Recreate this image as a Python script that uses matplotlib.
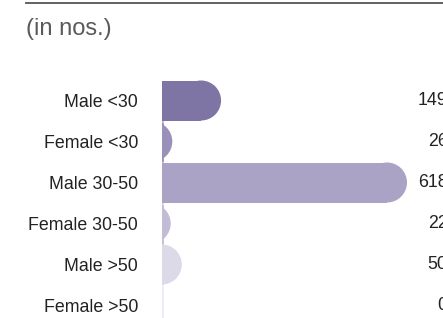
import matplotlib
matplotlib.use("Agg")
import matplotlib.pyplot as plt
from matplotlib.patches import Rectangle, Ellipse
from matplotlib.transforms import blended_transform_factory

plt.rcParams['font.family'] = ['Liberation Sans', 'DejaVu Sans']

categories = ["Male <30", "Female <30", "Male 30-50", "Female 30-50", "Male >50", "Female >50"]
values = [149, 26, 618, 22, 50, 0]
colors = ["#7f75a4", "#9a90ba", "#aaa3c5", "#c2bcd7", "#dcd9e8", "#eeecf3"]

W, H = 443, 318
fig = plt.figure(figsize=(W / 100, H / 100), dpi=100)

# heading rule and unit note
fig.add_artist(plt.Line2D([26 / W, 1], [1 - 2.5 / H, 1 - 2.5 / H], color="#555555", lw=1.3))
fig.text(26 / W, 1 - 35 / H, "(in nos.)", fontsize=17, color="#5a5a5a", ha="left", va="baseline")

ax = fig.add_axes([162 / W, 0, (W - 162) / W, (H - 80) / H])
row_px = 41
xmax = (W - 162) / 245 * max(values)
ax.set_xlim(0, xmax)
ax.set_ylim(-0.5 + (H - 80) / row_px, -0.5)

bar_h = 40 / row_px
r_x = 20 * xmax / (W - 162)

# rounded bars: flat body plus a round cap, clipped at the axis start
for i, (v, c) in enumerate(zip(values, colors)):
    cx = v - r_x
    if cx > 0:
        ax.add_patch(Rectangle((-10, i - bar_h / 2), cx + 10, bar_h, color=c, lw=0))
    ax.add_patch(Ellipse((cx, i), 2 * r_x, bar_h, color=c, lw=0))
    ax.vlines(0, i - bar_h / 2, i + bar_h / 2, color=c, lw=2)

trans = blended_transform_factory(ax.transAxes, ax.transData)
for i, v in enumerate(values):
    ax.text((447.5 - 162) / (W - 162), i, str(v), transform=trans, ha="right", va="center",
            fontsize=12.8, color="#222222", clip_on=False)

ax.set_yticks(range(len(categories)))
ax.set_yticklabels(categories, fontsize=12.8, color="#222222")
ax.tick_params(axis="y", length=0, pad=17.3)
ax.set_xticks([])
for s in ax.spines.values():
    s.set_visible(False)

fig.savefig("out.png", dpi=100)
